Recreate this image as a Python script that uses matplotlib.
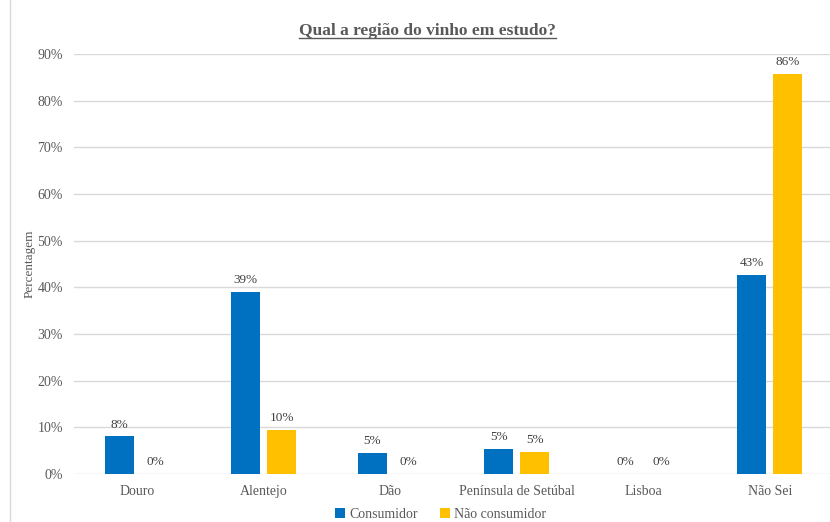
import matplotlib
matplotlib.use("Agg")
import matplotlib.pyplot as plt
from matplotlib.lines import Line2D
import numpy as np

categories = ["Douro", "Alentejo", "Dão", "Península de Setúbal", "Lisboa", "Não Sei"]
consumidor = [8.1, 39.0, 4.6, 5.4, 0.0, 42.7]
nao_consumidor = [0.0, 9.5, 0.0, 4.7, 0.0, 85.7]
series_names = ["Consumidor", "Não consumidor"]
yticks = [0, 10, 20, 30, 40, 50, 60, 70, 80, 90]

plt.rcParams["font.family"] = ["Liberation Serif", "DejaVu Serif"]
txt = "#595959"

fig = plt.figure(figsize=(8.3, 5.22), dpi=100)
ax = fig.add_axes([0.0892, 0.092, 0.9145, 0.8046])

x = np.arange(len(categories))
w = 0.229
off = 0.142
b1 = ax.bar(x - off, consumidor, w, color="#0070C0", zorder=3)
b2 = ax.bar(x + off, nao_consumidor, w, color="#FFC000", zorder=3)

for bars, vals in ((b1, consumidor), (b2, nao_consumidor)):
    for r, v in zip(bars, vals):
        ax.annotate(f"{v:.0f}%", (r.get_x() + r.get_width() / 2, v),
                    xytext=(0, 4), textcoords="offset points",
                    ha="center", va="bottom", fontsize=9.5, color="#404040")

ax.set_xlim(-0.5, len(categories) - 0.5)
ax.set_ylim(0, 90)
ax.set_yticks(yticks)
ax.set_yticklabels([f"{t}%" for t in yticks])
ax.set_xticks(x)
ax.set_xticklabels(categories)
ax.tick_params(axis="both", length=0, colors=txt, labelsize=10)
ax.tick_params(axis="y", pad=8)
ax.tick_params(axis="x", pad=8)
ax.grid(axis="y", color="#D9D9D9", linewidth=1, zorder=0)
for s in ax.spines.values():
    s.set_visible(False)
ax.set_ylabel("Percentagem", color=txt, fontsize=9.5, labelpad=1.5)

ax.legend([b1, b2], series_names, loc="center", bbox_to_anchor=(0.483, -0.097),
          ncol=2, frameon=False, fontsize=10, handlelength=0.7, handleheight=0.7,
          handletextpad=0.3, columnspacing=1.6, labelcolor=txt)

title = fig.text(0.515, 0.94, "Qual a região do vinho em estudo?", ha="center",
                 va="center", fontsize=12.5, fontweight="bold", color=txt)

# underline the title
fig.canvas.draw()
bb = title.get_window_extent().transformed(fig.transFigure.inverted())
fig.add_artist(Line2D([bb.x0, bb.x1], [bb.y0 + 0.002, bb.y0 + 0.002],
                      transform=fig.transFigure, color=txt, linewidth=1))

# thin chart frame edge on the left
fig.add_artist(Line2D([0.012, 0.012], [0.0, 1.0], transform=fig.transFigure,
                      color="#D9D9D9", linewidth=1))

fig.savefig("out.png", dpi=100)
